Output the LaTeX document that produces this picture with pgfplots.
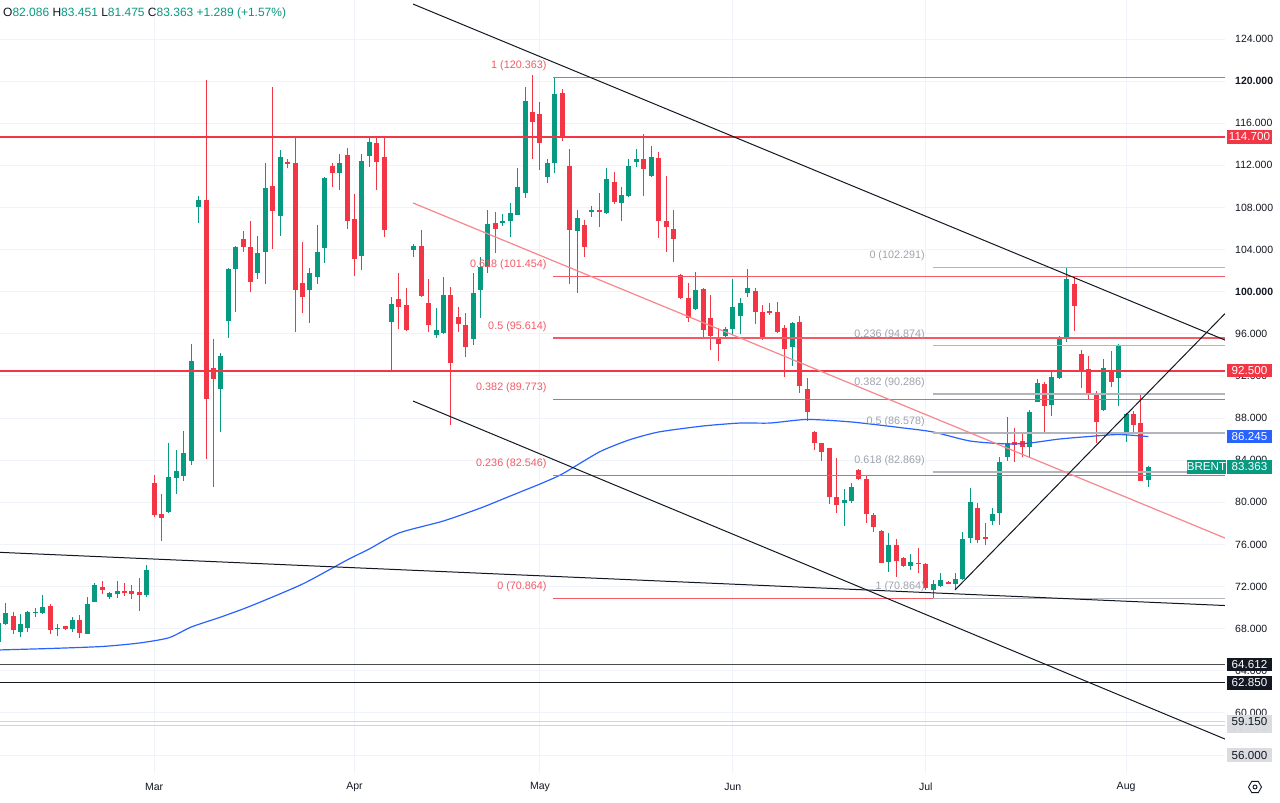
\documentclass[border=0pt]{standalone}
\usepackage{pgfplots}
\pgfplotsset{compat=1.18}
\usepackage{pgfplotstable}
\usepackage{fontspec}
\setmainfont{Liberation Sans}
\definecolor{tvgreen}{HTML}{089981}
\definecolor{tvred}{HTML}{F23645}
\definecolor{tvblue}{HTML}{2962FF}
\definecolor{tvtext}{HTML}{131722}
\definecolor{tvgrid}{HTML}{F0F3FA}
\definecolor{fibred}{HTML}{F25A66}
\definecolor{fibgray}{HTML}{B2B5BE}
\definecolor{fibgraytxt}{HTML}{A0A3AC}
\definecolor{trendred}{HTML}{F7868D}
\definecolor{lgray}{HTML}{D1D4DC}
\definecolor{boxgray}{HTML}{DADCE0}

\pgfplotstableread{
i o h l c
0 66.77 68.60 66.50 68.51
1 68.44 70.40 68.35 69.46
2 69.20 69.61 67.49 67.87
3 67.71 69.39 67.18 68.44
4 68.03 69.71 67.71 69.58
5 69.50 69.93 69.07 69.60
6 69.46 71.20 69.40 70.03
7 70.15 70.31 67.49 67.87
8 67.95 68.41 67.33 68.10
9 68.25 68.30 67.90 67.94
10 67.94 69.08 67.71 68.82
11 68.82 69.30 67.15 67.62
12 67.49 70.97 67.45 70.34
13 70.53 72.37 70.50 72.12
14 71.92 72.56 71.29 71.67
15 70.97 71.51 70.85 71.42
16 71.29 72.56 70.94 71.58
17 71.58 72.37 71.10 71.48
18 71.58 72.15 70.82 71.29
19 71.51 72.78 69.71 71.20
20 71.20 74.05 70.97 73.57
21 81.80 82.59 78.64 78.80
22 78.86 80.79 76.30 78.48
23 79.11 85.60 78.95 82.44
24 82.28 84.97 80.79 82.97
25 82.53 86.77 82.03 84.72
26 83.96 95.04 83.55 93.42
27 108.08 109.09 106.56 108.71
28 108.71 120.11 84.08 89.78
29 92.72 95.51 81.49 91.68
30 90.73 94.21 86.71 93.89
31 97.22 102.22 95.64 102.13
32 102.13 104.34 98.04 104.22
33 104.98 105.80 103.80 104.22
34 104.22 106.75 100.01 100.95
35 101.75 105.29 101.21 103.71
36 103.74 112.19 100.70 109.88
37 110.07 119.47 104.06 107.70
38 107.22 113.46 105.32 112.76
39 112.33 112.60 111.72 112.20
40 112.26 114.73 96.21 100.16
41 100.80 104.75 98.01 99.53
42 100.16 102.22 97.06 101.75
43 101.37 106.34 100.73 103.80
44 104.18 110.93 102.70 110.83
45 111.94 112.19 109.98 111.24
46 111.24 113.08 109.66 112.19
47 112.98 113.62 105.96 106.75
48 106.87 109.28 101.52 103.11
49 103.39 113.08 102.06 112.45
50 112.92 114.73 111.88 114.19
51 114.09 114.57 109.66 112.35
52 112.76 114.57 105.23 105.86
53 97.16 99.53 92.57 98.80
54 99.28 101.75 96.46 98.52
55 98.74 100.39 96.27 96.37
56 103.96 104.53 103.27 104.34
57 104.34 105.86 99.47 99.59
58 98.96 101.18 96.14 96.84
59 95.89 98.42 95.57 96.37
60 96.05 101.37 95.98 99.69
61 99.69 100.42 87.34 93.26
62 97.63 98.52 96.21 96.90
63 96.84 97.95 93.83 94.78
64 95.48 101.75 94.94 99.91
65 100.16 103.33 97.47 102.38
66 102.38 107.76 101.75 106.40
67 106.49 107.60 103.65 105.93
68 106.49 107.38 106.27 106.68
69 106.72 108.39 105.23 107.44
70 107.29 111.72 107.29 109.91
71 109.34 119.47 108.87 118.14
72 117.04 120.58 112.61 116.15
73 116.85 117.99 111.56 114.16
74 110.86 112.57 110.29 112.19
75 112.19 120.363 111.24 118.78
76 118.84 119.25 114.35 114.72
77 111.94 113.52 100.73 105.86
78 105.80 107.76 99.85 107.03
79 106.34 106.81 103.33 104.22
80 107.65 108.17 107.13 107.75
81 107.75 109.41 106.18 107.65
82 107.44 111.72 107.35 110.71
83 110.39 111.40 108.33 108.55
84 108.39 109.98 106.72 109.18
85 109.12 112.57 108.96 111.94
86 112.35 113.52 111.88 112.57
87 112.57 114.95 109.12 111.65
88 111.02 113.84 110.93 112.76
89 112.67 113.30 105.07 106.75
90 106.75 110.99 103.74 106.18
91 105.96 107.76 102.79 104.98
92 101.59 101.65 99.30 99.37
93 99.37 100.80 97.16 97.54
94 98.36 101.91 98.26 100.13
95 100.23 100.32 95.57 96.37
96 97.47 99.69 94.47 95.83
97 95.67 96.52 93.42 95.00
98 95.83 96.68 95.73 96.46
99 96.43 101.21 95.89 98.52
100 97.69 99.37 95.95 98.96
101 99.91 102.16 99.53 100.39
102 100.10 100.39 96.90 98.04
103 98.04 98.74 95.42 95.64
104 98.20 98.90 97.79 98.01
105 98.04 99.06 96.05 96.21
106 96.52 96.84 91.87 94.53
107 94.72 97.16 92.98 97.06
108 97.09 97.69 90.41 91.05
109 90.73 91.77 87.75 88.61
110 86.71 86.77 84.97 85.60
111 85.60 85.67 83.96 84.75
112 85.13 85.19 79.84 80.54
113 80.54 84.18 78.96 79.75
114 79.97 81.23 77.75 80.22
115 80.13 81.87 79.90 81.42
116 83.07 83.13 82.12 82.21
117 82.21 82.59 78.00 78.86
118 78.80 78.96 77.15 77.69
119 77.28 77.37 74.20 74.27
120 74.37 77.06 73.41 75.95
121 75.95 76.49 72.88 74.43
122 74.75 74.80 73.90 73.98
123 73.98 75.09 73.57 74.37
124 74.27 75.69 73.26 74.14
125 74.11 74.20 71.67 71.83
126 71.67 72.62 70.95 72.24
127 72.08 73.26 71.99 72.62
128 72.46 72.50 72.20 72.24
129 72.25 73.26 71.74 72.69
130 72.69 77.21 72.60 76.49
131 76.58 81.33 76.11 80.06
132 79.43 79.90 76.11 76.42
133 76.68 78.01 75.95 76.58
134 78.26 79.43 77.85 78.86
135 78.95 84.34 77.85 83.86
136 84.34 88.13 83.96 85.60
137 85.70 87.09 83.86 85.44
138 85.82 86.71 84.34 85.22
139 85.29 88.77 84.18 88.55
140 89.56 91.71 89.50 91.30
141 91.24 91.46 86.49 89.15
142 89.24 92.35 88.23 91.93
143 91.78 95.80 91.71 95.73
144 95.57 102.291 95.26 101.21
145 100.73 101.43 96.30 98.68
146 94.09 94.47 90.83 92.57
147 92.66 93.90 89.78 90.26
148 90.29 90.57 85.60 87.66
149 88.77 93.58 88.70 92.72
150 92.47 94.40 90.98 91.46
151 91.78 95.04 89.15 94.94
152 86.71 88.51 85.70 88.39
153 88.39 88.71 86.49 87.34
154 87.50 90.26 82.00 82.06
155 82.086 83.451 81.475 83.363
}\candles

\pgfplotstableread{
i ma
0 65.98
7 66.12
14 66.31
19 66.64
23 67.14
26 68.16
30 69.11
34 70.15
41 72.24
47 74.52
50 75.57
54 77.09
60 78.23
65 79.46
69 80.60
73 81.74
76 82.69
81 84.78
85 85.92
89 86.68
95 87.25
100 87.53
104 87.53
109 87.87
115 87.63
122 87.06
126 86.68
131 85.82
136 85.54
139 85.63
143 86.01
147 86.25
151 86.44
155 86.245
}\matable

\newcommand{\lblfont}{\fontsize{10.8}{12}\selectfont}
\newcommand{\boxfont}{\fontsize{11.6}{12}\selectfont}

\begin{document}
\begin{tikzpicture}
\fill[white] (0,0) rectangle (1280pt,-803pt);
\begin{axis}[
  at={(0pt,0pt)}, anchor=north west,
  width=1225pt, height=773pt, scale only axis,
  xmin=0.229, xmax=165.33, ymin=54.295, ymax=127.704,
  clip mode=individual,
  axis line style={draw=none},
  major tick length=0pt,
  xtick={21,48,73,99,125,152},
  xticklabels={Mar,Apr,May,Jun,Jul,Aug},
  ytick={56,60,64,68,72,76,80,84,88,92,96,100,104,108,112,116,120,124},
  yticklabels={{},60.000,64.000,68.000,72.000,76.000,80.000,84.000,88.000,92.000,96.000,\textbf{100.000},104.000,108.000,112.000,116.000,\textbf{120.000},124.000},
  yticklabel pos=right,
  grid=major,
  grid style={draw=tvgrid, line width=1pt},
  ticklabel style={font=\fontsize{10.5}{12}\selectfont, text=tvtext},
  yticklabel style={anchor=west, inner sep=0pt, xshift=10pt},
  xticklabel style={anchor=center, inner sep=0pt, yshift=-14pt},
  candle/.style={forget plot, draw=none, mark=none},
]
% light gray lines
\addplot[lgray, line width=1pt] coordinates {(0,59.15) (170,59.15)};
\addplot[lgray, line width=1pt] coordinates {(0,58.76) (170,58.76)};
% black horizontal
\addplot[black!70, line width=1.5pt] coordinates {(0,64.612) (170,64.612)};
\addplot[tvtext, line width=1pt] coordinates {(0,62.85) (170,62.85)};

% candles: wicks
\addplot[candle,
  restrict expr to domain={\thisrow{c}-\thisrow{o}}{0:1000},
  error bars/.cd, y dir=both, y explicit, error mark=none,
  error bar style={draw=tvgreen, line width=1pt, solid}]
  table[x=i, y expr={(\thisrow{h}+\thisrow{l})/2}, y error expr={(\thisrow{h}-\thisrow{l})/2}] {\candles};
\addplot[candle,
  restrict expr to domain={\thisrow{c}-\thisrow{o}}{-1000:0},
  error bars/.cd, y dir=both, y explicit, error mark=none,
  error bar style={draw=tvred, line width=1pt, solid}]
  table[x=i, y expr={(\thisrow{h}+\thisrow{l})/2}, y error expr={(\thisrow{h}-\thisrow{l})/2}] {\candles};
% bodies
\addplot[candle,
  restrict expr to domain={\thisrow{c}-\thisrow{o}}{0:1000},
  error bars/.cd, y dir=both, y explicit, error mark=none,
  error bar style={draw=tvgreen, line width=5pt, solid}]
  table[x=i, y expr={(\thisrow{o}+\thisrow{c})/2}, y error expr={abs(\thisrow{c}-\thisrow{o})/2}] {\candles};
\addplot[candle,
  restrict expr to domain={\thisrow{c}-\thisrow{o}}{-1000:0},
  error bars/.cd, y dir=both, y explicit, error mark=none,
  error bar style={draw=tvred, line width=5pt, solid}]
  table[x=i, y expr={(\thisrow{o}+\thisrow{c})/2}, y error expr={abs(\thisrow{c}-\thisrow{o})/2}] {\candles};

% moving average
\addplot[tvblue, line width=1.2pt, smooth, tension=0.4] table[x=i, y=ma] {\matable};

% red fib lines
\addplot[fibred, line width=1.4pt] coordinates {(74.82,120.363) (170,120.363)};
\addplot[fibred, line width=1.4pt] coordinates {(74.82,101.454) (170,101.454)};
\addplot[fibred, line width=1.4pt] coordinates {(74.82,95.614) (170,95.614)};
\addplot[fibred, line width=1.4pt] coordinates {(74.82,89.773) (170,89.773)};
\addplot[fibred, line width=1.4pt] coordinates {(74.82,82.546) (170,82.546)};
\addplot[fibred, line width=1.4pt] coordinates {(74.82,70.864) (170,70.864)};
% gray fib lines
\addplot[fibgray, line width=1.4pt] coordinates {(125.97,102.291) (170,102.291)};
\addplot[fibgray, line width=1.4pt] coordinates {(125.97,94.874) (170,94.874)};
\addplot[fibgray, line width=1.4pt] coordinates {(125.97,90.286) (170,90.286)};
\addplot[fibgray, line width=1.4pt] coordinates {(125.97,86.578) (170,86.578)};
\addplot[fibgray, line width=1.4pt] coordinates {(125.97,82.869) (170,82.869)};
\addplot[fibgray, line width=1.4pt] coordinates {(125.97,70.864) (170,70.864)};

% red horizontal levels
\addplot[tvred, line width=2pt] coordinates {(0,114.7) (170,114.7)};
\addplot[tvred, line width=2pt] coordinates {(0,92.5) (170,92.5)};

% trend lines
\addplot[tvtext, line width=1pt] coordinates {(55.89,127.32) (165.33,95.41)};
\addplot[trendred, line width=1.2pt] coordinates {(55.89,108.43) (165.33,76.61)};
\addplot[tvtext, line width=1pt] coordinates {(55.89,89.62) (165.33,57.52)};
\addplot[tvtext, line width=1pt] coordinates {(0.229,75.25) (165.33,70.20)};
\addplot[tvtext, line width=1pt] coordinates {(128.93,71.67) (165.33,97.92)};

% fib labels (red)
\node[anchor=east, inner sep=0pt, text=fibred, font=\lblfont, yshift=11.5pt] at (axis cs:73.91,120.363) {1 (120.363)};
\node[anchor=east, inner sep=0pt, text=fibred, font=\lblfont, yshift=11.5pt] at (axis cs:73.91,101.454) {0.618 (101.454)};
\node[anchor=east, inner sep=0pt, text=fibred, font=\lblfont, yshift=11.5pt] at (axis cs:73.91,95.614) {0.5 (95.614)};
\node[anchor=east, inner sep=0pt, text=fibred, font=\lblfont, yshift=11.5pt] at (axis cs:73.91,89.773) {0.382 (89.773)};
\node[anchor=east, inner sep=0pt, text=fibred, font=\lblfont, yshift=11.5pt] at (axis cs:73.91,82.546) {0.236 (82.546)};
\node[anchor=east, inner sep=0pt, text=fibred, font=\lblfont, yshift=11.5pt] at (axis cs:73.91,70.864) {0 (70.864)};
% fib labels (gray)
\node[anchor=east, inner sep=0pt, text=fibgraytxt, font=\lblfont, yshift=11.5pt] at (axis cs:124.89,102.291) {0 (102.291)};
\node[anchor=east, inner sep=0pt, text=fibgraytxt, font=\lblfont, yshift=11.5pt] at (axis cs:124.89,94.874) {0.236 (94.874)};
\node[anchor=east, inner sep=0pt, text=fibgraytxt, font=\lblfont, yshift=11.5pt] at (axis cs:124.89,90.286) {0.382 (90.286)};
\node[anchor=east, inner sep=0pt, text=fibgraytxt, font=\lblfont, yshift=11.5pt] at (axis cs:124.89,86.578) {0.5 (86.578)};
\node[anchor=east, inner sep=0pt, text=fibgraytxt, font=\lblfont, yshift=11.5pt] at (axis cs:124.89,82.869) {0.618 (82.869)};
\node[anchor=east, inner sep=0pt, text=fibgraytxt, font=\lblfont, yshift=11.5pt] at (axis cs:124.89,70.864) {1 (70.864)};

% anchor coordinates for price boxes
\coordinate (b1) at (axis cs:168.63,114.7);
\coordinate (b2) at (axis cs:168.63,92.5);
\coordinate (b3) at (axis cs:168.63,86.245);
\coordinate (b4) at (axis cs:168.63,83.363);
\coordinate (b4n) at (axis cs:162.83,83.363);
\coordinate (b5) at (axis cs:168.63,64.612);
\coordinate (b6) at (axis cs:168.63,62.85);
\coordinate (b7) at (axis cs:168.63,59.15);
\coordinate (b7b) at (axis cs:168.63,58.76);
\coordinate (b8) at (axis cs:168.63,56.0);
\end{axis}

\tikzset{pbox/.style={inner sep=0pt, minimum width=45pt, minimum height=13.5pt, font=\boxfont}}
\node[pbox, fill=tvred, text=white] at (b1) {114.700};
\node[pbox, fill=tvred, text=white] at (b2) {92.500};
\node[pbox, fill=tvblue, text=white] at (b3) {86.245};
\node[pbox, fill=tvgreen, text=white] at (b4) {83.363};
\node[pbox, minimum width=39pt, fill=tvgreen, text=white] at (b4n) {BRENT};
\node[pbox, fill=tvtext, text=white] at (b5) {64.612};
\node[pbox, fill=tvtext, text=white] at (b6) {62.850};
\node[pbox, fill=boxgray, text=tvtext] at (b7b) {58.760};
\node[pbox, fill=boxgray, text=tvtext] at (b7) {59.150};
\node[pbox, fill=boxgray, text=tvtext] at (b8) {56.000};

% OHLC header
\node[anchor=west, inner sep=0pt, font=\fontsize{12}{14}\selectfont] at (3pt,-13pt)
 {\textcolor{tvtext}{O}\textcolor{tvgreen}{82.086} \textcolor{tvtext}{H}\textcolor{tvgreen}{83.451} \textcolor{tvtext}{L}\textcolor{tvgreen}{81.475} \textcolor{tvtext}{C}\textcolor{tvgreen}{83.363} \textcolor{tvgreen}{+1.289 (+1.57\%)}};

% settings icon
\draw[tvtext, line width=0.9pt] (1255pt,-787pt) +(0:6.5pt) -- +(60:6.5pt) -- +(120:6.5pt) -- +(180:6.5pt) -- +(240:6.5pt) -- +(300:6.5pt) -- cycle;
\draw[tvtext, line width=0.9pt] (1255pt,-787pt) circle (2pt);

\pgfresetboundingbox
\path (0,0) rectangle (1280pt,-803pt);
\end{tikzpicture}
\end{document}
